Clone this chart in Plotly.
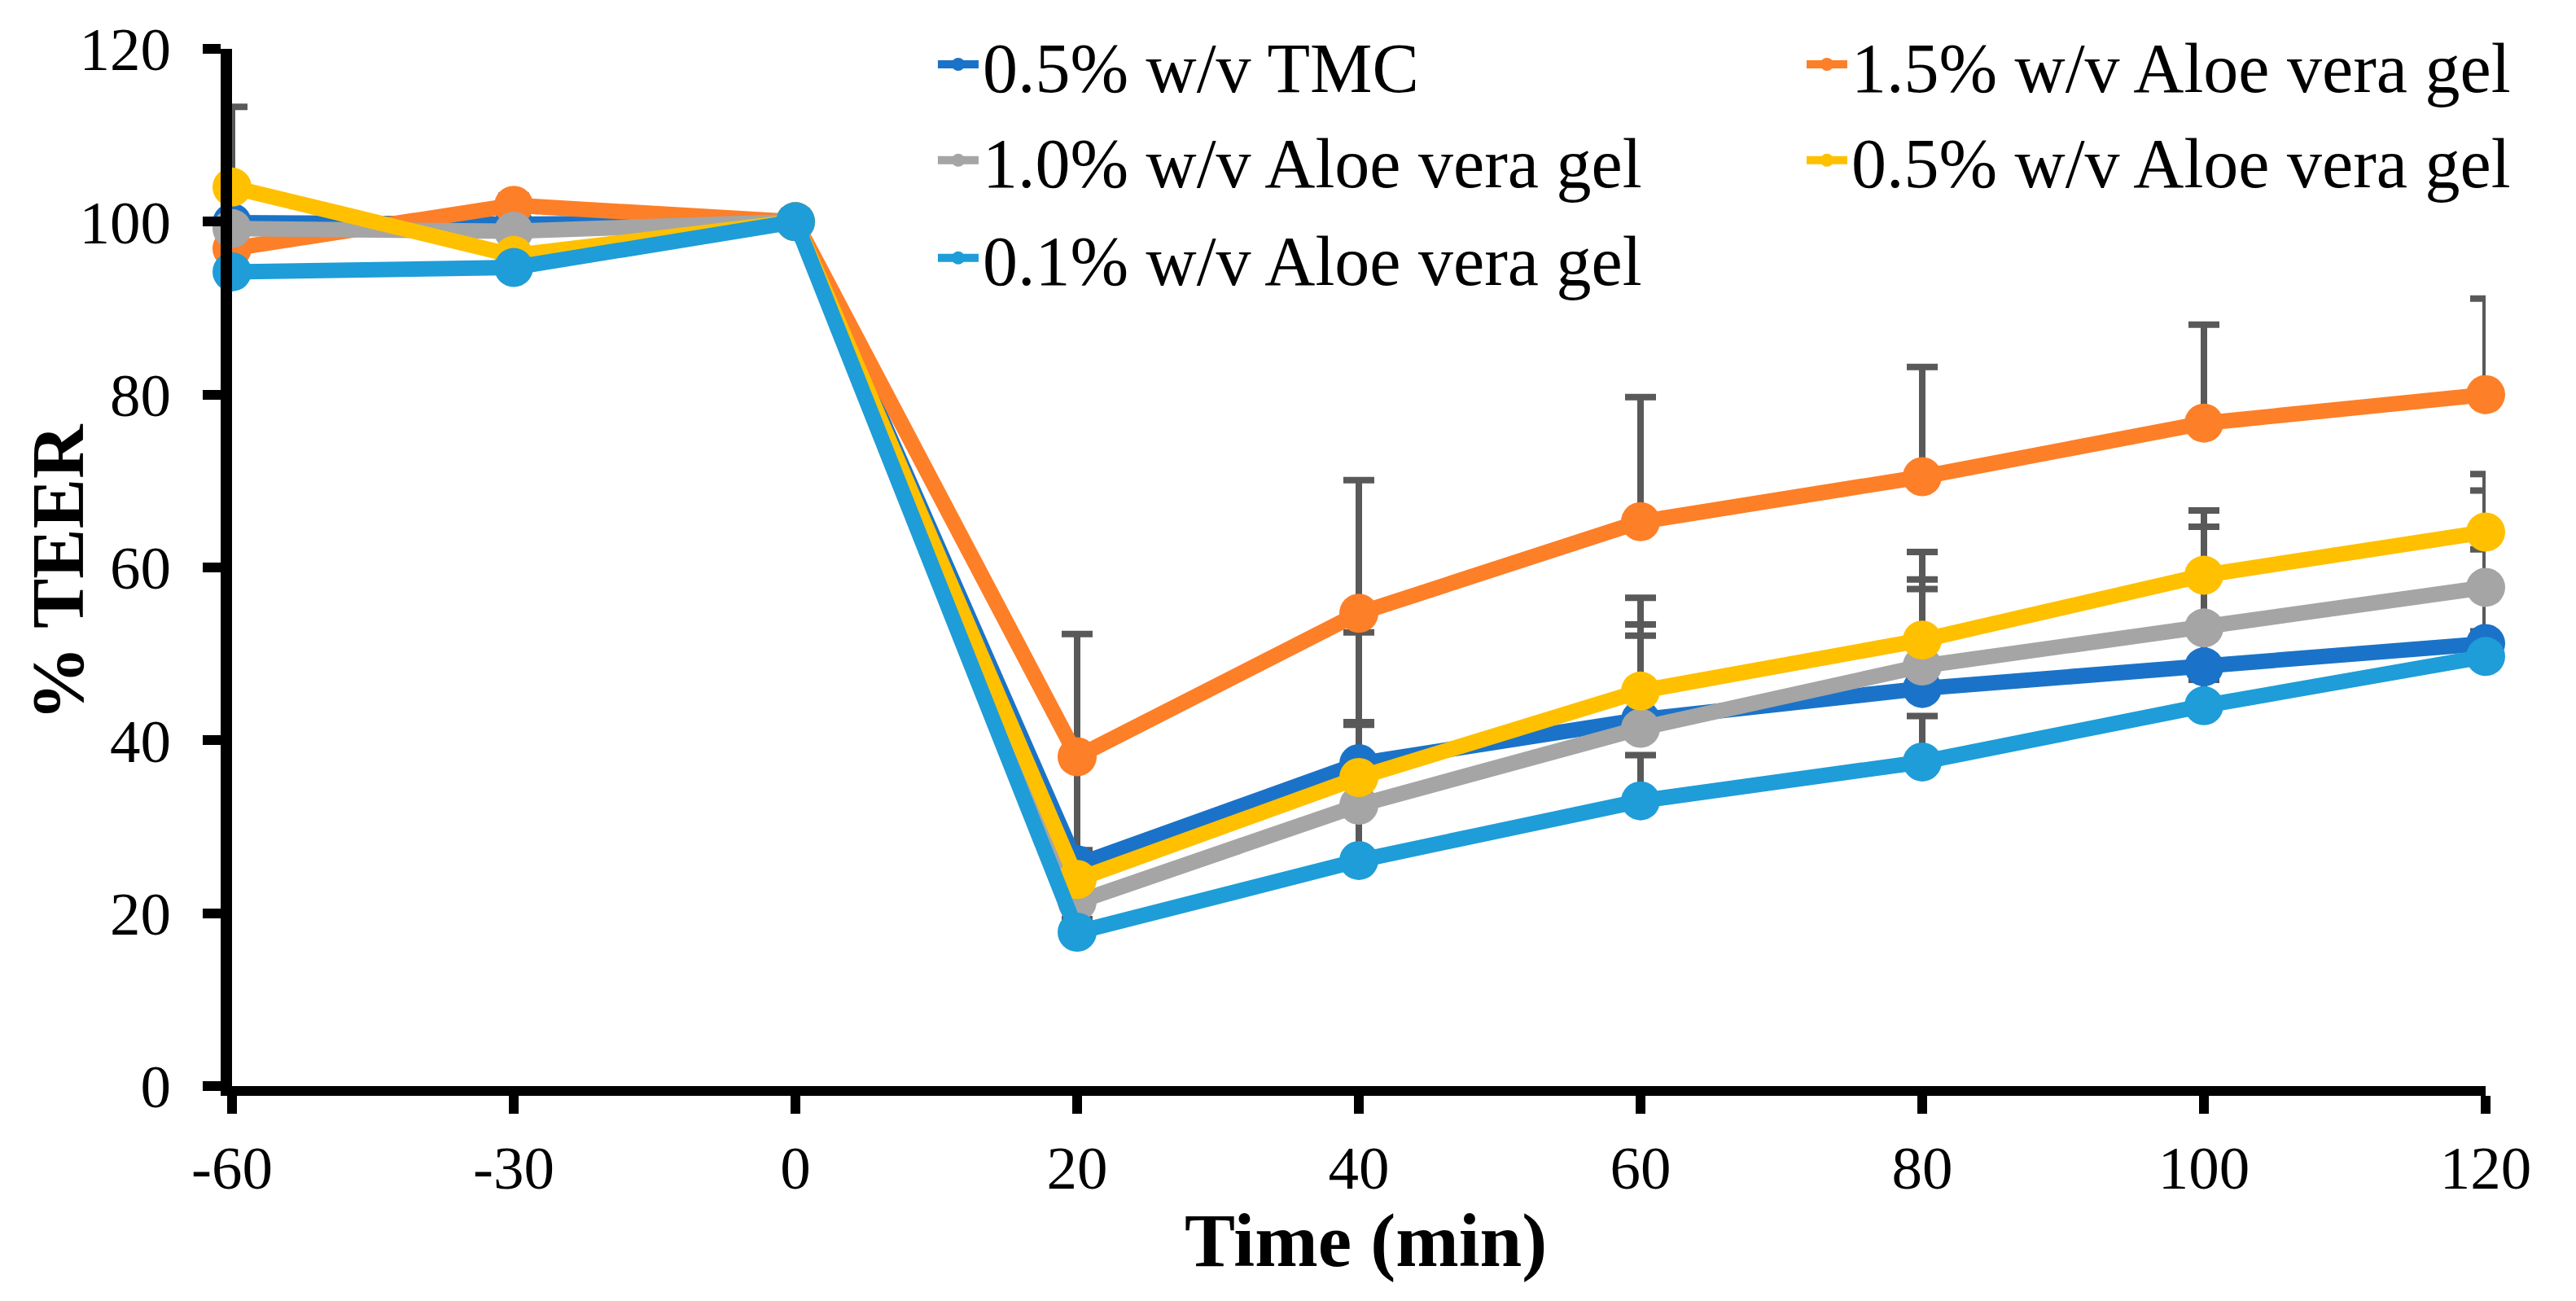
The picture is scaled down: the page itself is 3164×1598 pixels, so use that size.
"""
TEER time course chart (Plotly) - % TEER vs time for TMC and Aloe vera gel.
"""
import plotly.graph_objects as go

# time points (min) shown as categories on the x axis
times = ["-60", "-30", "0", "20", "40", "60", "80", "100", "120"]

# mean % TEER per series
tmc_05 = [99.9, 99.7, 100, 25.6, 37.3, 42.4, 46.0, 48.5, 51.2]
aloe_15 = [96.9, 101.9, 100, 38.1, 54.7, 65.3, 70.5, 76.7, 80.0]
aloe_10 = [99.2, 98.9, 100, 21.3, 32.5, 41.4, 48.6, 53.0, 57.7]
aloe_05 = [104.0, 96.1, 100, 23.9, 35.7, 45.7, 51.6, 59.1, 64.1]
aloe_01 = [94.2, 94.7, 100, 17.8, 26.1, 33.0, 37.5, 44.0, 49.7]

# upper error bars (SD)
tmc_05_err = [1.0, 1.0, 0, 1.7, 4.8, 11.0, 11.5, 4.0, 10.9]
aloe_15_err = [1.0, 1.1, 0, 14.2, 15.4, 14.4, 12.7, 11.4, 11.1]
aloe_10_err = [1.0, 1.0, 0, 2.0, 9.3, 10.7, 10.0, 11.7, 11.2]
aloe_05_err = [9.3, 1.0, 0, 14.0, 16.8, 10.8, 10.2, 7.5, 6.7]
aloe_01_err = [1.0, 1.0, 0, 1.5, 16.0, 5.3, 5.3, 3.0, 2.9]

y_ticks = [0, 20, 40, 60, 80, 100, 120]

FONT = "Palatino Linotype, Book Antiqua, Liberation Serif, serif"
ERR_COLOR = "#595959"

series = [
    ("0.5% w/v TMC", tmc_05, tmc_05_err, "#1A73C8", "legend"),
    ("1.5% w/v Aloe vera gel", aloe_15, aloe_15_err, "#FD7F28", "legend"),
    ("1.0% w/v Aloe vera gel", aloe_10, aloe_10_err, "#A5A5A5", "legend2"),
    ("0.5% w/v Aloe vera gel", aloe_05, aloe_05_err, "#FFC000", "legend2"),
    ("0.1% w/v Aloe vera gel", aloe_01, aloe_01_err, "#1E9DD8", "legend3"),
]

fig = go.Figure()

# error bars first so every line and marker sits above them
for name, vals, errs, color, _ in series:
    fig.add_trace(go.Scatter(
        x=times, y=vals, mode="markers",
        marker=dict(size=2, opacity=0),
        error_y=dict(type="data", symmetric=False, array=errs,
                     arrayminus=[0] * len(errs), color=ERR_COLOR,
                     thickness=8, width=19),
        showlegend=False, hoverinfo="skip",
    ))

for name, vals, errs, color, leg in series:
    fig.add_trace(go.Scatter(
        x=times, y=vals, name=name, mode="lines+markers",
        line=dict(color=color, width=19),
        marker=dict(color=color, size=48),
        cliponaxis=False, legend=leg,
    ))

legend_common = dict(
    orientation="h", xanchor="left", yanchor="middle", x=0.3114,
    entrywidth=1002, itemwidth=50, bgcolor="rgba(0,0,0,0)",
    font=dict(family=FONT, size=86, color="black"),
)

fig.update_layout(
    width=3164, height=1598,
    margin=dict(l=285, r=111, t=60, b=264, pad=0, autoexpand=False),
    paper_bgcolor="white", plot_bgcolor="white",
    font=dict(family=FONT, color="black"),
    legend=dict(y=0.985, **legend_common),
    legend2=dict(y=0.8925, **legend_common),
    legend3=dict(y=0.7983, **legend_common),
    xaxis=dict(
        type="category", range=[0, 8], showgrid=False, zeroline=False,
        showline=True, linecolor="black", linewidth=12,
        ticks="outside", ticklen=22, tickwidth=12, tickcolor="black",
        tickfont=dict(family=FONT, size=75, color="black"),
        ticklabelstandoff=2,
    ),
    yaxis=dict(
        range=[0, 120], tickvals=y_ticks, showgrid=False, zeroline=False,
        showline=True, linecolor="black", linewidth=14,
        ticks="outside", ticklen=22, tickwidth=12, tickcolor="black",
        tickfont=dict(family=FONT, size=75, color="black"),
        ticklabelstandoff=24,
    ),
    annotations=[
        dict(text="<b>% TEER</b>", xref="paper", yref="paper",
             x=-0.0773, y=0.495, textangle=-90, showarrow=False,
             xanchor="center", yanchor="middle",
             font=dict(family=FONT, size=92, color="black")),
        dict(text="<b>Time (min)</b>", xref="paper", yref="paper",
             x=0.503, y=-0.149, showarrow=False,
             xanchor="center", yanchor="middle",
             font=dict(family=FONT, size=93, color="black")),
    ],
)

fig.write_html("out.html", config={"displayModeBar": False},
               post_script="document.body.style.margin='0';")
